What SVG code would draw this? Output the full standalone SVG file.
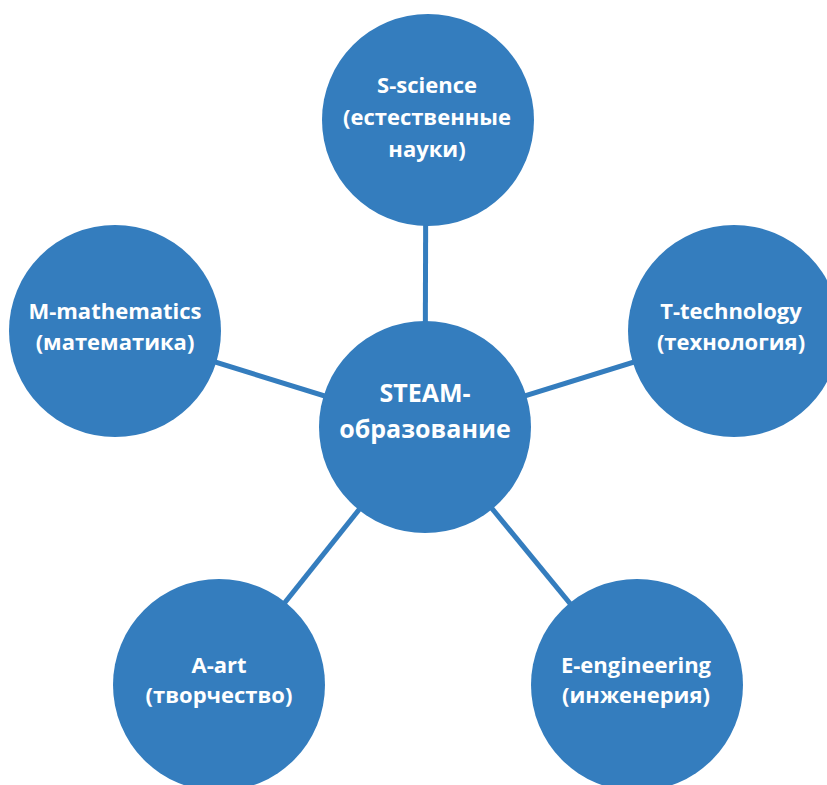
<svg xmlns="http://www.w3.org/2000/svg" width="827" height="785" viewBox="0 0 827 785">
<style>
.n{fill:#347dbe}
.c{stroke:#347dbe;stroke-width:5}
.t{fill:#fff;font-family:"Open Sans","Noto Sans","Liberation Sans",sans-serif;font-weight:700;font-size:22px;text-anchor:middle}
.big{font-size:25px}
</style>
<rect width="827" height="785" fill="#fff"/>
<g id="connectors">
<line class="c" x1="426" y1="120" x2="425" y2="427"/>
<line class="c" x1="115" y1="331" x2="425" y2="427"/>
<line class="c" x1="734" y1="331" x2="425" y2="427"/>
<line class="c" x1="219" y1="685" x2="425" y2="427"/>
<line class="c" x1="637" y1="685" x2="425" y2="427"/>
</g>
<g id="center">
<circle class="n" cx="425" cy="427" r="106"/>
<text class="t big" x="425" y="402">STEAM-</text>
<text class="t big" x="425" y="438">образование</text>
</g>
<g id="science">
<circle class="n" cx="428" cy="120" r="106"/>
<text class="t" x="427" y="93">S-science</text>
<text class="t" x="427" y="125">(естественные</text>
<text class="t" x="427" y="157">науки)</text>
</g>
<g id="math">
<circle class="n" cx="115" cy="331" r="106"/>
<text class="t" x="115" y="319">M-mathematics</text>
<text class="t" x="115" y="350">(математика)</text>
</g>
<g id="tech">
<circle class="n" cx="734" cy="331" r="106"/>
<text class="t" x="731" y="319">T-technology</text>
<text class="t" x="731" y="350">(технология)</text>
</g>
<g id="art">
<circle class="n" cx="219" cy="685" r="106"/>
<text class="t" x="219" y="673">A-art</text>
<text class="t" x="219" y="703">(творчество)</text>
</g>
<g id="eng">
<circle class="n" cx="637" cy="685" r="106"/>
<text class="t" x="636" y="673">E-engineering</text>
<text class="t" x="636" y="703">(инженерия)</text>
</g>
</svg>
